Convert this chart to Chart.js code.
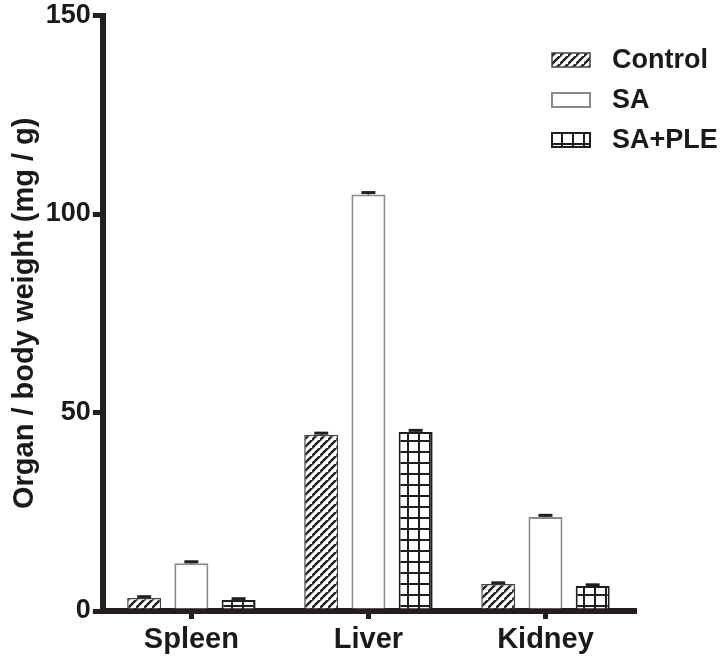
<!DOCTYPE html>
<html>
<head>
<meta charset="utf-8">
<script src="https://cdn.jsdelivr.net/npm/chart.js@4.4.1/dist/chart.umd.min.js"></script>
<style>
  html, body { margin: 0; padding: 0; background: #ffffff; }
  #wrap { width: 727px; height: 660px; }
</style>
</head>
<body>
<div id="wrap"><canvas id="c" width="727" height="660"></canvas></div>
<script>
const categories = ['Spleen', 'Liver', 'Kidney'];
const seriesNames = ['Control', 'SA', 'SA+PLE'];
const controlValues = [3.3, 44.4, 6.8];
const saValues = [12.0, 104.9, 23.7];
const saPleValues = [2.8, 45.1, 6.3];
const controlErrors = [0.3, 0.4, 0.3];
const saErrors = [0.4, 0.5, 0.4];
const saPleErrors = [0.3, 0.4, 0.3];
const yTickValues = [0, 50, 100, 150];
const yTitle = 'Organ / body weight (mg / g)';

const INK = '#231f20';
const FONT = "'Liberation Sans', Arial, Helvetica, sans-serif";

function hatchPattern() {
  const s = 8;
  const cv = document.createElement('canvas');
  cv.width = s; cv.height = s;
  const g = cv.getContext('2d');
  g.fillStyle = '#ffffff'; g.fillRect(0, 0, s, s);
  g.strokeStyle = '#222222'; g.lineWidth = 2.4;
  g.beginPath();
  g.moveTo(-2, s + 2); g.lineTo(s + 2, -2);
  g.moveTo(-2 - s, s + 2); g.lineTo(2, -2);
  g.moveTo(s - 2, 2 * s + 2); g.lineTo(2 * s + 2, s - 2);
  g.stroke();
  return g.createPattern(cv, 'repeat');
}
function gridPattern() {
  const s = 11;
  const cv = document.createElement('canvas');
  cv.width = s; cv.height = s;
  const g = cv.getContext('2d');
  g.fillStyle = '#ffffff'; g.fillRect(0, 0, s, s);
  g.fillStyle = '#1e1e1e';
  g.fillRect(0, 0, 2, s);
  g.fillRect(0, 0, s, 2);
  return g.createPattern(cv, 'repeat');
}

const errorBars = {
  id: 'errorBars',
  afterDatasetsDraw(chart) {
    const ctx = chart.ctx;
    const yScale = chart.scales.y;
    ctx.save();
    ctx.strokeStyle = INK;
    chart.data.datasets.forEach((ds, di) => {
      const meta = chart.getDatasetMeta(di);
      meta.data.forEach((bar, i) => {
        const v = ds.data[i];
        const e = ds.errors[i];
        const yTop = yScale.getPixelForValue(v + e);
        const yBase = yScale.getPixelForValue(v);
        ctx.lineWidth = 2;
        ctx.beginPath();
        ctx.moveTo(bar.x, yBase); ctx.lineTo(bar.x, yTop);
        ctx.stroke();
        ctx.lineWidth = 3;
        ctx.beginPath();
        ctx.moveTo(bar.x - 7, yTop); ctx.lineTo(bar.x + 7, yTop);
        ctx.stroke();
      });
    });
    ctx.restore();
  }
};

const customLegend = {
  id: 'customLegend',
  afterDraw(chart, args, opts) {
    const ctx = chart.ctx;
    ctx.save();
    chart.data.datasets.forEach((ds, i) => {
      const cy = opts.top + i * opts.spacing;
      const bx = opts.boxLeft, bw = opts.boxWidth, bh = opts.boxHeight;
      ctx.fillStyle = ds.backgroundColor;
      ctx.fillRect(bx, cy - bh / 2, bw, bh);
      ctx.lineWidth = ds.borderWidth;
      ctx.strokeStyle = ds.borderColor;
      ctx.strokeRect(bx, cy - bh / 2, bw, bh);
      ctx.fillStyle = '#1a1a1a';
      ctx.font = 'bold ' + opts.fontSize + 'px ' + FONT;
      ctx.textBaseline = 'middle';
      ctx.textAlign = 'left';
      ctx.fillText(ds.label, opts.textLeft, cy + 1);
    });
    ctx.restore();
  }
};

const ctx = document.getElementById('c').getContext('2d');
new Chart(ctx, {
  type: 'bar',
  data: {
    labels: categories,
    datasets: [
      { label: seriesNames[0], data: controlValues, errors: controlErrors,
        backgroundColor: hatchPattern(), borderColor: '#444444', borderWidth: 1.5 },
      { label: seriesNames[1], data: saValues, errors: saErrors,
        backgroundColor: '#ffffff', borderColor: '#8a8a8a', borderWidth: 2 },
      { label: seriesNames[2], data: saPleValues, errors: saPleErrors,
        backgroundColor: gridPattern(), borderColor: '#1e1e1e', borderWidth: 2 }
    ]
  },
  options: {
    responsive: false,
    animation: false,
    devicePixelRatio: 1,
    layout: { padding: { left: 8, right: 93, top: 0, bottom: 0 } },
    datasets: { bar: { categoryPercentage: 0.8, barPercentage: 0.72 } },
    plugins: {
      legend: { display: false },
      tooltip: { enabled: false },
      customLegend: { top: 60, spacing: 40, boxLeft: 552, boxWidth: 38, boxHeight: 14, textLeft: 612, fontSize: 27 }
    },
    scales: {
      x: {
        grid: { display: true, drawOnChartArea: false, drawTicks: true, tickLength: 8, lineWidth: 5, color: INK, offset: false },
        border: { display: true, width: 6, color: INK },
        ticks: { color: '#1a1a1a', font: { family: FONT, size: 29, weight: 'bold', lineHeight: 1.0 }, padding: 6 }
      },
      y: {
        min: 0, max: 150,
        afterBuildTicks(scale) { scale.ticks = yTickValues.map(v => ({ value: v })); },
        grid: { display: true, drawOnChartArea: false, drawTicks: true, tickLength: 10, lineWidth: 5, color: INK },
        border: { display: true, width: 6, color: INK },
        ticks: { color: '#1a1a1a', font: { family: FONT, size: 27, weight: 'bold', lineHeight: 1.0 }, padding: 2 },
        title: { display: true, text: yTitle, color: '#1a1a1a', font: { family: FONT, size: 29, weight: 'bold' }, padding: { top: 0, bottom: 1 } }
      }
    }
  },
  plugins: [errorBars, customLegend]
});
</script>
</body>
</html>
